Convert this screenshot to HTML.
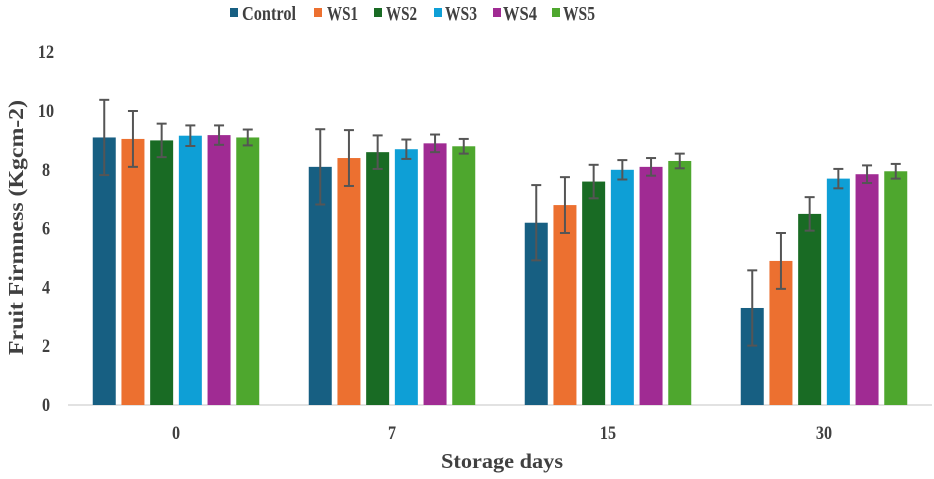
<!DOCTYPE html>
<html><head><meta charset="utf-8">
<style>
body{margin:0;background:#fff;}
svg text{font-family:"Liberation Serif",serif;font-weight:bold;fill:#404040;}
</style></head>
<body>
<svg id="chart" width="934" height="474">
<g id="legend"></g>
<g id="yaxis"></g>
<line x1="68" y1="405" x2="932" y2="405" stroke="#d9d9d9" stroke-width="1.5"/>
<g id="bars"></g>
<g id="xaxis"></g>
<text x="441" y="468" font-size="21" textLength="122" lengthAdjust="spacingAndGlyphs">Storage days</text>
<text transform="translate(23,228) rotate(-90)" x="-127" font-size="21" textLength="255" lengthAdjust="spacingAndGlyphs">Fruit Firmness (Kgcm-2)</text>
</svg>
<script>
const categories = ["0","7","15","30"];
const seriesNames = ["Control","WS1","WS2","WS3","WS4","WS5"];
const seriesColors = ["#175f82","#ec7030","#196b24","#0e9fd6","#a02b93","#4ea72e"];
const control = [9.1,8.1,6.2,3.3];
const ws1 = [9.05,8.4,6.8,4.9];
const ws2 = [9.0,8.6,7.6,6.5];
const ws3 = [9.16,8.7,8.0,7.7];
const ws4 = [9.18,8.9,8.1,7.85];
const ws5 = [9.1,8.8,8.3,7.95];
const errControl = [1.28,1.28,1.28,1.28];
const errWs1 = [0.95,0.95,0.95,0.95];
const errWs2 = [0.57,0.57,0.57,0.57];
const errWs3 = [0.35,0.33,0.33,0.33];
const errWs4 = [0.33,0.3,0.3,0.3];
const errWs5 = [0.27,0.25,0.25,0.25];
const yTicks = [0,2,4,6,8,10,12];

const series=[control,ws1,ws2,ws3,ws4,ws5];
const errs=[errControl,errWs1,errWs2,errWs3,errWs4,errWs5];
const NS="http://www.w3.org/2000/svg";
const y0=405, yPer=29.4;
function yScale(v){return y0-v*yPer;}
const plotL=68, groupW=216, pitch=28.7, barW=23;
function xGroup(i){return plotL+groupW*(i+0.5);}
function xBar(i,s){return xGroup(i)+(s-2.5)*pitch;}
function mk(tag,attrs,parent){const e=document.createElementNS(NS,tag);for(const k in attrs)e.setAttribute(k,attrs[k]);parent.appendChild(e);return e;}

const yg=document.getElementById('yaxis');
yTicks.forEach(t=>{
  const e=mk('text',{x:46,y:yScale(t)+6,'font-size':19,'text-anchor':'middle',transform:'translate(46,0) scale(0.85,1) translate(-46,0)'},yg);
  e.textContent=t;
  
  
});
const xg=document.getElementById('xaxis');
categories.forEach((c,i)=>{
  const xc=xGroup(i);
  const e=mk('text',{x:xc,y:439,'font-size':19,'text-anchor':'middle',transform:'translate('+xc+',0) scale(0.85,1) translate('+(-xc)+',0)'},xg);
  e.textContent=c;
  
  
});
const bg=document.getElementById('bars');
series.forEach((vals,s)=>{
  vals.forEach((v,i)=>{
    const cx=xBar(i,s);
    const r=mk('rect',{x:cx-barW/2,y:yScale(v),width:barW,height:y0-yScale(v),fill:seriesColors[s]},bg);
    
    
    const e=errs[s][i];
    const g=mk('g',{stroke:'#555','stroke-width':2},bg);
    
    
    mk('line',{x1:cx,x2:cx,y1:yScale(v+e),y2:yScale(v-e)},g);
    mk('line',{x1:cx-5,x2:cx+5,y1:yScale(v+e),y2:yScale(v+e)},g);
    mk('line',{x1:cx-5,x2:cx+5,y1:yScale(v-e),y2:yScale(v-e)},g);
  });
});
const lg=document.getElementById('legend');
const legX=[230,314,374,434,493,552];
const legTextX=[242,327,386,445,503,563];
const legTextW=[54,31,31,32,34,32];
seriesNames.forEach((n,s)=>{
  const g=mk('g',{},lg);
  
  
  mk('rect',{x:legX[s],y:8,width:8,height:9,fill:seriesColors[s]},g);
  const t=mk('text',{x:legTextX[s],y:20,'font-size':20,textLength:legTextW[s],lengthAdjust:'spacingAndGlyphs'},g);
  t.textContent=n;
});
</script>
</body></html>
